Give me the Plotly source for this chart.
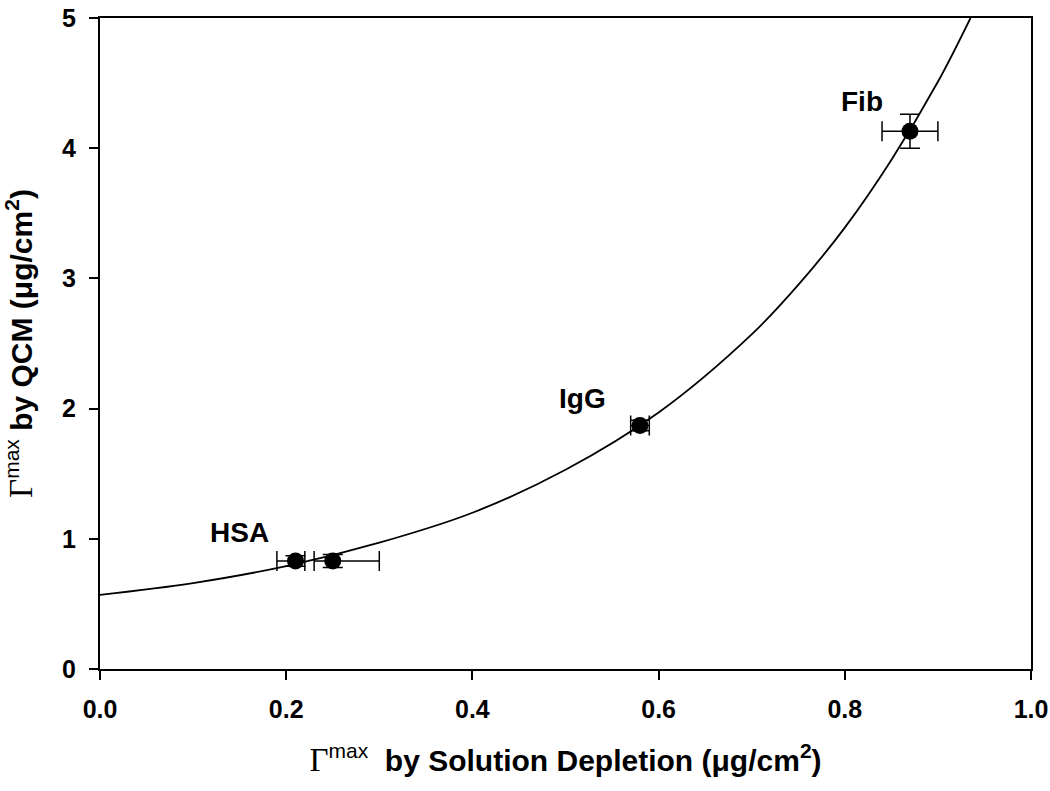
import plotly.graph_objects as go

# measured points (solution depletion vs QCM)
hsa_x = [0.21, 0.25]
hsa_y = [0.83, 0.83]
hsa_xerr_plus = [0.01, 0.05]
hsa_xerr_minus = [0.02, 0.02]
hsa_yerr = [0.04, 0.05]

igg_x = [0.58]
igg_y = [1.87]
igg_xerr = [0.01]
igg_yerr = [0.04]

fib_x = [0.87]
fib_y = [4.13]
fib_xerr = [0.03]
fib_yerr = [0.13]

# fitted curve
curve_x = [0.0, 0.1, 0.2, 0.3, 0.4, 0.5, 0.6, 0.7, 0.75, 0.8, 0.85, 0.9, 0.935]
curve_y = [0.57, 0.66, 0.79, 0.97, 1.20, 1.53, 1.97, 2.57, 2.95, 3.39, 3.91, 4.51, 5.0]

labels = ['HSA', 'IgG', 'Fib']
label_x = [0.150, 0.518, 0.818]
label_y = [1.045, 2.08, 4.355]

FONT = 'Arial, Liberation Sans, sans-serif'
SERIF = 'Times New Roman, Liberation Serif, serif'

fig = go.Figure()
fig.add_scatter(x=curve_x, y=curve_y, mode='lines', line=dict(color='black', width=1.8, shape='spline'),
                hoverinfo='skip')

err_style = dict(color='black', thickness=1.5, width=10)
for xs, ys, ex_p, ex_m, ey in [
    (hsa_x, hsa_y, hsa_xerr_plus, hsa_xerr_minus, hsa_yerr),
    (igg_x, igg_y, igg_xerr, igg_xerr, igg_yerr),
    (fib_x, fib_y, fib_xerr, fib_xerr, fib_yerr),
]:
    fig.add_scatter(
        x=xs, y=ys, mode='markers',
        marker=dict(color='black', size=17),
        error_x=dict(type='data', array=ex_p, arrayminus=ex_m, **err_style),
        error_y=dict(type='data', array=ey, **err_style),
    )

for t, x, y in zip(labels, label_x, label_y):
    fig.add_annotation(x=x, y=y, text=t, showarrow=False,
                       font=dict(family=FONT, size=28, color='black', weight='bold'))

gamma = (f'<span style="font-family:{SERIF};font-weight:normal;font-size:33px">Γ</span>'
         '<sup><span style="font-weight:normal;font-size:21px">max</span></sup>')
axis_common = dict(showline=True, linecolor='black', linewidth=2, mirror=True, showgrid=False,
                   zeroline=False, ticks='outside', ticklen=9, tickwidth=2, tickcolor='black',
                   automargin=False, ticklabelstandoff=8,
                   tickfont=dict(family=FONT, size=25, color='black', weight='bold'))

fig.update_xaxes(range=[0, 1], tickvals=[0, 0.2, 0.4, 0.6, 0.8, 1.0], tickformat='.1f',
                 title=dict(text=f'{gamma}  by Solution Depletion (μg/cm<sup>2</sup>)',
                            font=dict(family=FONT, size=30, color='black', weight='bold'), standoff=28),
                 **axis_common)
fig.update_yaxes(range=[0, 5], tickvals=[0, 1, 2, 3, 4, 5],
                 title=dict(text=f'{gamma} by QCM (μg/cm<sup>2</sup>)',
                            font=dict(family=FONT, size=30, color='black', weight='bold'), standoff=24),
                 **axis_common)
fig.update_layout(
    width=1050, height=791,
    margin=dict(l=100, r=19, t=18, b=122),
    plot_bgcolor='white', paper_bgcolor='white',
    showlegend=False,
    font=dict(family=FONT, color='black'),
)
fig.write_html('out.html', config={'displayModeBar': False},
               post_script="document.body.style.margin='0px';")
